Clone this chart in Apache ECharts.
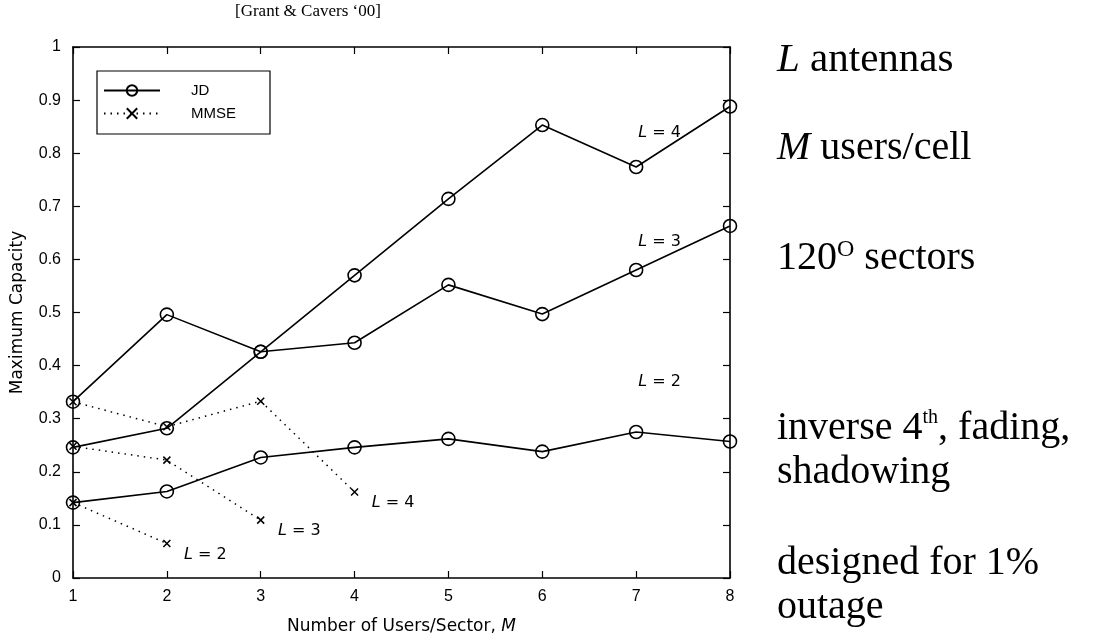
<!DOCTYPE html>
<html>
<head>
<meta charset="utf-8">
<script src="https://cdn.jsdelivr.net/npm/echarts@6/dist/echarts.min.js"></script>
<style>
html, body { margin: 0; padding: 0; background: #fff; }
#chart { width: 1118px; height: 640px; }
</style>
</head>
<body>
<div id="chart"></div>
<script>
// number of users per sector (x)
var users = [1, 2, 3, 4, 5, 6, 7, 8];
// JD, one line per antenna count
var jdL2 = [0.142, 0.163, 0.227, 0.246, 0.262, 0.238, 0.275, 0.257];
var jdL3 = [0.332, 0.496, 0.426, 0.443, 0.552, 0.497, 0.580, 0.663];
var jdL4 = [0.246, 0.282, 0.426, 0.570, 0.714, 0.853, 0.774, 0.888];
// MMSE stops early
var mmseL2 = [0.142, 0.065];
var mmseL3 = [0.248, 0.222, 0.109];
var mmseL4 = [0.332, 0.285, 0.333, 0.162];
// where the "L = n" notes of the JD lines sit
var jdNoteX = [7.25, 7.25, 7.25];
var jdNoteY = [0.37, 0.634, 0.839];
var antennas = [2, 3, 4];

var chart = echarts.init(document.getElementById('chart'));

var serif = '"Liberation Serif", "Times New Roman", serif';
var sans = '"Liberation Sans", Arial, sans-serif';
var wide = '"DejaVu Sans", "Liberation Sans", sans-serif';
var crossPath = 'path://M0,0L10,10M10,0L0,10';

function pairs(vals) {
    return vals.map(function (v, i) { return [users[i], v]; });
}

function noteRich() {
    return {
        i: { fontStyle: 'italic', fontFamily: wide, fontSize: 16, color: '#000' },
        n: { fontFamily: wide, fontSize: 16, color: '#000' }
    };
}

function jdSeries(vals, k) {
    return {
        name: 'JD',
        type: 'line',
        data: pairs(vals),
        symbol: 'circle',
        symbolSize: 13,
        lineStyle: { color: '#000', width: 1.6 },
        itemStyle: { color: 'rgba(0,0,0,0)', borderColor: '#000', borderWidth: 1.6 },
        z: 3,
        markPoint: {
            symbol: 'circle',
            symbolSize: 0,
            data: [{
                coord: [jdNoteX[k], jdNoteY[k]],
                label: {
                    show: true,
                    position: 'inside',
                    formatter: '{i|L}{n| = ' + antennas[k] + '}',
                    rich: noteRich()
                }
            }]
        }
    };
}

function mmseSeries(vals, k) {
    var d = pairs(vals);
    var last = d.length - 1;
    d[last] = {
        value: d[last],
        label: {
            show: true,
            position: 'right',
            offset: [8, 11],
            formatter: '{i|L}{n| = ' + antennas[k] + '}',
            rich: noteRich()
        }
    };
    return {
        name: 'MMSE',
        type: 'line',
        data: d,
        symbol: crossPath,
        symbolSize: 7,
        lineStyle: { color: '#000', width: 1.5, type: [1.5, 5] },
        itemStyle: { color: '#000', borderColor: '#000', borderWidth: 1.5 },
        z: 2
    };
}

var tickStyle = { show: true, inside: true, length: 7, lineStyle: { color: '#000', width: 1.2 } };
var lineStyleAxis = { show: true, onZero: false, lineStyle: { color: '#000', width: 1.6 } };

var option = {
    animation: false,
    backgroundColor: '#fff',
    grid: { left: 73, top: 47, width: 657, height: 535 },
    legend: {
        data: ['JD', 'MMSE'],
        orient: 'vertical',
        left: 97,
        top: 71,
        padding: [12, 34, 13, 6],
        itemWidth: 56,
        itemHeight: 13,
        itemGap: 8,
        borderColor: '#000',
        borderWidth: 1.2,
        backgroundColor: '#fff',
        textStyle: { fontFamily: sans, fontSize: 15, color: '#000', padding: [0, 0, 0, 26] }
    },
    xAxis: [{
        type: 'value',
        min: 1, max: 8, interval: 1,
        position: 'bottom',
        axisLine: lineStyleAxis,
        axisTick: tickStyle,
        splitLine: { show: false },
        axisLabel: { fontFamily: sans, fontSize: 16, color: '#000', margin: 11 },
        name: '{n|Number of Users/Sector, }{i|M}',
        nameLocation: 'middle',
        nameGap: 40,
        nameTextStyle: {
            rich: {
                n: { fontFamily: wide, fontSize: 17, color: '#000' },
                i: { fontFamily: wide, fontSize: 17, color: '#000', fontStyle: 'italic' }
            }
        }
    }, {
        type: 'value',
        min: 1, max: 8, interval: 1,
        position: 'top',
        axisLine: lineStyleAxis,
        axisTick: tickStyle,
        splitLine: { show: false },
        axisLabel: { show: false }
    }],
    yAxis: [{
        type: 'value',
        min: 0, max: 1, interval: 0.1,
        position: 'left',
        axisLine: lineStyleAxis,
        axisTick: tickStyle,
        splitLine: { show: false },
        axisLabel: {
            fontFamily: sans, fontSize: 16, color: '#000', margin: 12,
            formatter: function (v) { return (v === 0 || v === 1) ? String(v) : v.toFixed(1); }
        },
        name: 'Maximum Capacity',
        nameLocation: 'middle',
        nameRotate: 90,
        nameGap: 47,
        nameTextStyle: { fontFamily: wide, fontSize: 17, color: '#000' }
    }, {
        type: 'value',
        min: 0, max: 1, interval: 0.1,
        position: 'right',
        axisLine: lineStyleAxis,
        axisTick: tickStyle,
        splitLine: { show: false },
        axisLabel: { show: false }
    }],
    series: [
        jdSeries(jdL2, 0),
        jdSeries(jdL3, 1),
        jdSeries(jdL4, 2),
        mmseSeries(mmseL2, 0),
        mmseSeries(mmseL3, 1),
        mmseSeries(mmseL4, 2)
    ],
    graphic: [
        {
            type: 'text', left: 235, top: 3,
            style: { text: '[Grant & Cavers \u201800]', font: '17px ' + serif, fill: '#000' }
        },
        { type: 'text', x: 777, y: 60, style: {
            text: '{i|L}{n| antennas}', verticalAlign: 'middle',
            rich: { i: { font: 'italic 41px ' + serif }, n: { font: '41px ' + serif } }, fill: '#000' } },
        { type: 'text', x: 777, y: 148, style: {
            text: '{i|M}{n| users/cell}', verticalAlign: 'middle',
            rich: { i: { font: 'italic 40px ' + serif }, n: { font: '40px ' + serif } }, fill: '#000' } },
        { type: 'text', x: 777, y: 258, style: {
            text: '{n|120}{s|O}{n| sectors}', verticalAlign: 'middle',
            rich: { n: { font: '40px ' + serif, verticalAlign: 'bottom' },
                    s: { font: '24px ' + serif, verticalAlign: 'top', padding: [0, 0, 16, 0] } }, fill: '#000' } },
        { type: 'text', x: 777, y: 428, style: {
            text: '{n|inverse 4}{s|th}{n|, fading,}', verticalAlign: 'middle',
            rich: { n: { font: '40px ' + serif, verticalAlign: 'bottom' },
                    s: { font: '20px ' + serif, verticalAlign: 'top', padding: [0, 0, 18, 0] } }, fill: '#000' } },
        { type: 'text', x: 777, y: 472, style: { text: 'shadowing', font: '40px ' + serif, fill: '#000', verticalAlign: 'middle' } },
        { type: 'text', x: 777, y: 563, style: { text: 'designed for 1%', font: '40px ' + serif, fill: '#000', verticalAlign: 'middle' } },
        { type: 'text', x: 777, y: 607, style: { text: 'outage', font: '40px ' + serif, fill: '#000', verticalAlign: 'middle' } }
    ]
};

chart.setOption(option);
</script>
</body>
</html>
